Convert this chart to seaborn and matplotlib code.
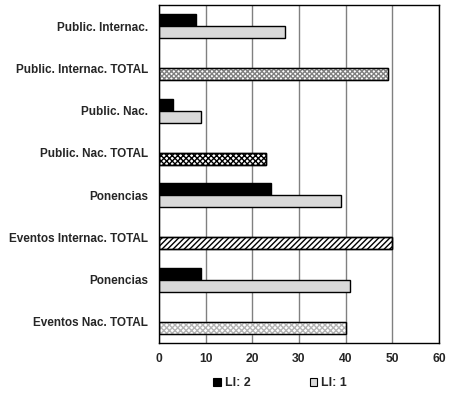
import numpy as np
import pandas as pd
import matplotlib
matplotlib.use("Agg")
import matplotlib.pyplot as plt
from matplotlib.patches import Patch, Rectangle
import seaborn as sns

# ---- data ----
labels = ["Public. Internac.", "Public. Internac. TOTAL", "Public. Nac.",
          "Public. Nac. TOTAL", "Ponencias", "Eventos Internac. TOTAL",
          "Ponencias", "Eventos Nac. TOTAL"]
li2 = [8, None, 3, None, 24, None, 9, None]
li1 = [27, 49, 9, 23, 39, 50, 41, 40]
series = ["LI: 2", "LI: 1"]
x_ticks = [0, 10, 20, 30, 40, 50, 60]

keys = [f"{i}_{l}" for i, l in enumerate(labels)]
df = pd.DataFrame({
    "key": keys * 2,
    "value": [np.nan if v is None else v for v in li2] + li1,
    "serie": [series[0]] * len(keys) + [series[1]] * len(keys),
})

sns.set_theme(style="white")
plt.rcParams["font.family"] = ["Liberation Sans", "DejaVu Sans"]
plt.rcParams["font.weight"] = "bold"
plt.rcParams["hatch.linewidth"] = 1.0

fig = plt.figure(figsize=(4.5, 3.97), dpi=100)
ax = fig.add_axes([159 / 450, 1 - 343 / 397, 280 / 450, 338 / 397])

pal = {"LI: 2": "black", "LI: 1": "#d9d9d9"}
sns.barplot(data=df, y="key", x="value", hue="serie", hue_order=series,
            order=keys, palette=pal, saturation=1, width=0.57, dodge=True,
            edgecolor="black", linewidth=1, legend=False, ax=ax, orient="h")

# patterned TOTAL bars (LI: 1 series)
styles = {1: ("xxxxxxx", "#808080"), 3: ("xxxxxx", "black"),
          5: ("//////", "black"), 7: ("xxxxxx", "#b4b4b4")}
bars = list(ax.containers[1])
for idx, (hatch, hc) in styles.items():
    p = bars[idx]
    p.set_facecolor("white")
    p.set_hatch(hatch)
    if hasattr(p, "set_hatchcolor"):
        p.set_hatchcolor(hc)
        p.set_edgecolor("black")
    else:
        p.set_edgecolor(hc)
        ax.add_patch(Rectangle(p.get_xy(), p.get_width(), p.get_height(),
                               fill=False, edgecolor="black", lw=1, zorder=p.get_zorder() + 0.1))

ax.set_xlim(x_ticks[0], x_ticks[-1])
ax.set_xticks(x_ticks)
ax.set_xticklabels([str(t) for t in x_ticks], fontsize=8.7, fontweight="bold")
ax.set_yticks(range(len(labels)))
ax.set_yticklabels(labels, fontsize=8.5, fontweight="bold")
ax.set_xlabel("")
ax.set_ylabel("")
ax.tick_params(axis="y", length=0, pad=8)
ax.tick_params(axis="x", length=0, pad=7)
ax.xaxis.grid(True, color="#808080", linewidth=1)
ax.set_axisbelow(True)
for s in ax.spines.values():
    s.set_visible(True)
    s.set_color("black")
    s.set_linewidth(1)

handles = [Patch(facecolor="black", edgecolor="black", lw=0.8),
           Patch(facecolor="#d9d9d9", edgecolor="black", lw=0.8)]
fig.legend(handles, series, loc="center", bbox_to_anchor=(280 / 450, 1 - 383 / 397),
           ncol=2, frameon=False, handlelength=0.6, handleheight=0.6,
           handletextpad=0.3, columnspacing=4.8,
           prop={"size": 8.9, "weight": "bold"})

fig.savefig("out.png", dpi=100)
